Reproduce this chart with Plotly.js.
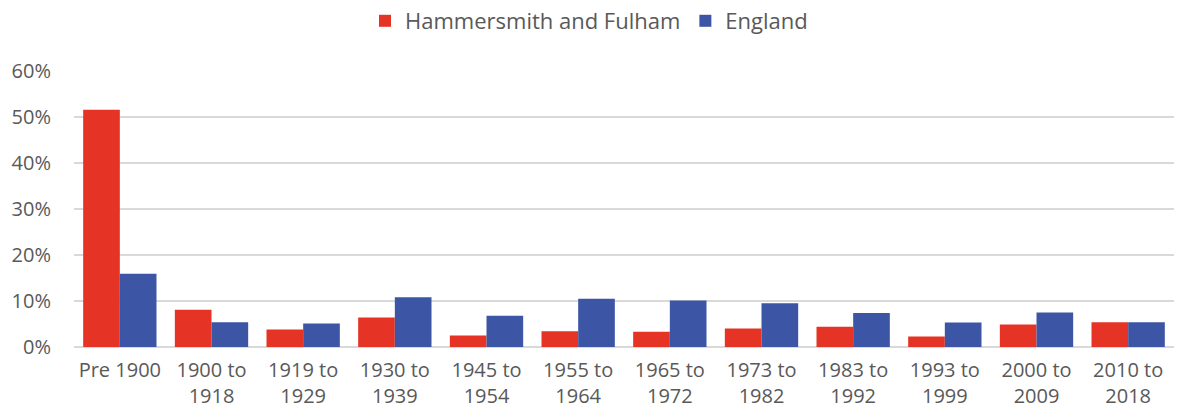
<!DOCTYPE html>
<html>
<head>
<meta charset="utf-8">
<script src="https://cdn.plot.ly/plotly-3.0.1.min.js"></script>
<style>html,body{margin:0;padding:0;background:#fff;}#chart{width:1178px;height:419px;}</style>
</head>
<body>
<div id="chart"></div>
<script>
const categories = ["Pre 1900","1900 to<br>1918","1919 to<br>1929","1930 to<br>1939","1945 to<br>1954","1955 to<br>1964","1965 to<br>1972","1973 to<br>1982","1983 to<br>1992","1993 to<br>1999","2000 to<br>2009","2010 to<br>2018"];
const hammersmith = [0.516,0.081,0.038,0.064,0.025,0.034,0.033,0.040,0.044,0.023,0.049,0.054];
const england = [0.159,0.054,0.051,0.108,0.068,0.105,0.101,0.095,0.074,0.053,0.075,0.054];
const yTicks = [0,0.1,0.2,0.3,0.4,0.5,0.6];

const font = "'Open Sans', sans-serif";
const data = [
  {type:"bar", name:"Hammersmith and Fulham", x:categories, y:hammersmith, marker:{color:"#E53425"}},
  {type:"bar", name:"England", x:categories, y:england, marker:{color:"#3C56A5"}}
];
const layout = {
  width:1178, height:419,
  margin:{l:74, r:4, t:71, b:72},
  paper_bgcolor:"#fff", plot_bgcolor:"#fff",
  barmode:"group", bargap:0.2, bargroupgap:0,
  font:{family:font, size:20, color:"#595959"},
  showlegend:true,
  legend:{orientation:"h", x:0.5, xanchor:"center", xref:"container", y:1, yref:"container", yanchor:"top",
          font:{family:font, size:22, color:"#595959"}, itemwidth:30, traceorder:"normal"},
  xaxis:{type:"category", showgrid:false, zeroline:false, showline:false, ticks:"", tickfont:{family:font, size:20, color:"#595959"}, ticklabelstandoff:9},
  yaxis:{range:[0,0.6], tickvals:yTicks, tickformat:".0%", showgrid:true, gridcolor:"#D9D9D9", gridwidth:1.5,
         zeroline:true, zerolinecolor:"#D9D9D9", zerolinewidth:1.5, showline:false, ticks:"",
         tickfont:{family:font, size:20, color:"#595959"}, ticklabelstandoff:22}
};
Plotly.newPlot("chart", data, layout, {displayModeBar:false, staticPlot:true});
</script>
</body>
</html>
